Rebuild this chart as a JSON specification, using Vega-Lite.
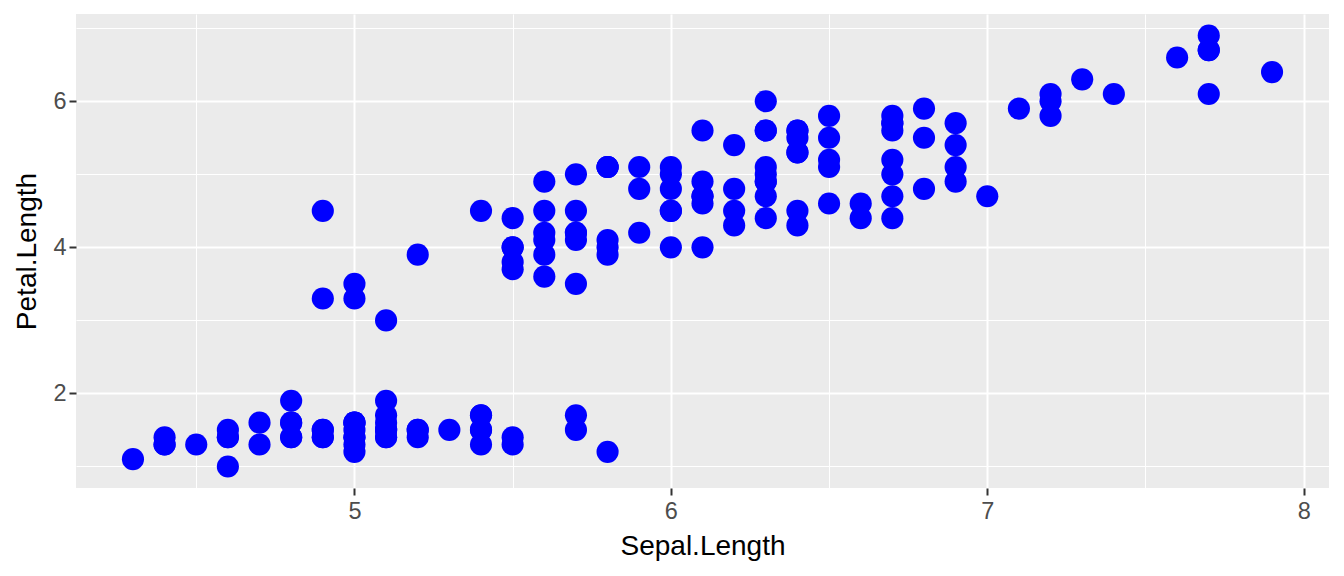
{
  "$schema": "https://vega.github.io/schema/vega-lite/v6.json",
  "width": 1253,
  "height": 474,
  "autosize": {"type": "none"},
  "padding": {"left": 76, "top": 14, "right": 15, "bottom": 88},
  "background": "white",
  "view": {"fill": "#EBEBEB", "stroke": null},
  "config": {
    "font": "Liberation Sans",
    "axis": {
      "gridColor": "white",
      "domain": false,
      "tickColor": "#333333",
      "tickSize": 7,
      "tickWidth": 2,
      "labelColor": "#4D4D4D",
      "labelFontSize": 23.5,
      "labelFont": "Liberation Sans",
      "titleFont": "Liberation Sans",
      "titleFontSize": 28,
      "titleFontWeight": "normal",
      "titleColor": "black"
    }
  },
  "data": {"values": [
    {"Sepal.Length":5.1,"Petal.Length":1.4},{"Sepal.Length":4.9,"Petal.Length":1.4},{"Sepal.Length":4.7,"Petal.Length":1.3},{"Sepal.Length":4.6,"Petal.Length":1.5},{"Sepal.Length":5.0,"Petal.Length":1.4},
    {"Sepal.Length":5.4,"Petal.Length":1.7},{"Sepal.Length":4.6,"Petal.Length":1.4},{"Sepal.Length":5.0,"Petal.Length":1.5},{"Sepal.Length":4.4,"Petal.Length":1.4},{"Sepal.Length":4.9,"Petal.Length":1.5},
    {"Sepal.Length":5.4,"Petal.Length":1.5},{"Sepal.Length":4.8,"Petal.Length":1.6},{"Sepal.Length":4.8,"Petal.Length":1.4},{"Sepal.Length":4.3,"Petal.Length":1.1},{"Sepal.Length":5.8,"Petal.Length":1.2},
    {"Sepal.Length":5.7,"Petal.Length":1.5},{"Sepal.Length":5.4,"Petal.Length":1.3},{"Sepal.Length":5.1,"Petal.Length":1.4},{"Sepal.Length":5.7,"Petal.Length":1.7},{"Sepal.Length":5.1,"Petal.Length":1.5},
    {"Sepal.Length":5.4,"Petal.Length":1.7},{"Sepal.Length":5.1,"Petal.Length":1.5},{"Sepal.Length":4.6,"Petal.Length":1.0},{"Sepal.Length":5.1,"Petal.Length":1.7},{"Sepal.Length":4.8,"Petal.Length":1.9},
    {"Sepal.Length":5.0,"Petal.Length":1.6},{"Sepal.Length":5.0,"Petal.Length":1.6},{"Sepal.Length":5.2,"Petal.Length":1.5},{"Sepal.Length":5.2,"Petal.Length":1.4},{"Sepal.Length":4.7,"Petal.Length":1.6},
    {"Sepal.Length":4.8,"Petal.Length":1.6},{"Sepal.Length":5.4,"Petal.Length":1.5},{"Sepal.Length":5.2,"Petal.Length":1.5},{"Sepal.Length":5.5,"Petal.Length":1.4},{"Sepal.Length":4.9,"Petal.Length":1.5},
    {"Sepal.Length":5.0,"Petal.Length":1.2},{"Sepal.Length":5.5,"Petal.Length":1.3},{"Sepal.Length":4.9,"Petal.Length":1.4},{"Sepal.Length":4.4,"Petal.Length":1.3},{"Sepal.Length":5.1,"Petal.Length":1.5},
    {"Sepal.Length":5.0,"Petal.Length":1.3},{"Sepal.Length":4.5,"Petal.Length":1.3},{"Sepal.Length":4.4,"Petal.Length":1.3},{"Sepal.Length":5.0,"Petal.Length":1.6},{"Sepal.Length":5.1,"Petal.Length":1.9},
    {"Sepal.Length":4.8,"Petal.Length":1.4},{"Sepal.Length":5.1,"Petal.Length":1.6},{"Sepal.Length":4.6,"Petal.Length":1.4},{"Sepal.Length":5.3,"Petal.Length":1.5},{"Sepal.Length":5.0,"Petal.Length":1.4},
    {"Sepal.Length":7.0,"Petal.Length":4.7},{"Sepal.Length":6.4,"Petal.Length":4.5},{"Sepal.Length":6.9,"Petal.Length":4.9},{"Sepal.Length":5.5,"Petal.Length":4.0},{"Sepal.Length":6.5,"Petal.Length":4.6},
    {"Sepal.Length":5.7,"Petal.Length":4.5},{"Sepal.Length":6.3,"Petal.Length":4.7},{"Sepal.Length":4.9,"Petal.Length":3.3},{"Sepal.Length":6.6,"Petal.Length":4.6},{"Sepal.Length":5.2,"Petal.Length":3.9},
    {"Sepal.Length":5.0,"Petal.Length":3.5},{"Sepal.Length":5.9,"Petal.Length":4.2},{"Sepal.Length":6.0,"Petal.Length":4.0},{"Sepal.Length":6.1,"Petal.Length":4.7},{"Sepal.Length":5.6,"Petal.Length":3.6},
    {"Sepal.Length":6.7,"Petal.Length":4.4},{"Sepal.Length":5.6,"Petal.Length":4.5},{"Sepal.Length":5.8,"Petal.Length":4.1},{"Sepal.Length":6.2,"Petal.Length":4.5},{"Sepal.Length":5.6,"Petal.Length":3.9},
    {"Sepal.Length":5.9,"Petal.Length":4.8},{"Sepal.Length":6.1,"Petal.Length":4.0},{"Sepal.Length":6.3,"Petal.Length":4.9},{"Sepal.Length":6.1,"Petal.Length":4.7},{"Sepal.Length":6.4,"Petal.Length":4.3},
    {"Sepal.Length":6.6,"Petal.Length":4.4},{"Sepal.Length":6.8,"Petal.Length":4.8},{"Sepal.Length":6.7,"Petal.Length":5.0},{"Sepal.Length":6.0,"Petal.Length":4.5},{"Sepal.Length":5.7,"Petal.Length":3.5},
    {"Sepal.Length":5.5,"Petal.Length":3.8},{"Sepal.Length":5.5,"Petal.Length":3.7},{"Sepal.Length":5.8,"Petal.Length":3.9},{"Sepal.Length":6.0,"Petal.Length":5.1},{"Sepal.Length":5.4,"Petal.Length":4.5},
    {"Sepal.Length":6.0,"Petal.Length":4.5},{"Sepal.Length":6.7,"Petal.Length":4.7},{"Sepal.Length":6.3,"Petal.Length":4.4},{"Sepal.Length":5.6,"Petal.Length":4.1},{"Sepal.Length":5.5,"Petal.Length":4.0},
    {"Sepal.Length":5.5,"Petal.Length":4.4},{"Sepal.Length":6.1,"Petal.Length":4.6},{"Sepal.Length":5.8,"Petal.Length":4.0},{"Sepal.Length":5.0,"Petal.Length":3.3},{"Sepal.Length":5.6,"Petal.Length":4.2},
    {"Sepal.Length":5.7,"Petal.Length":4.2},{"Sepal.Length":5.7,"Petal.Length":4.2},{"Sepal.Length":6.2,"Petal.Length":4.3},{"Sepal.Length":5.1,"Petal.Length":3.0},{"Sepal.Length":5.7,"Petal.Length":4.1},
    {"Sepal.Length":6.3,"Petal.Length":6.0},{"Sepal.Length":5.8,"Petal.Length":5.1},{"Sepal.Length":7.1,"Petal.Length":5.9},{"Sepal.Length":6.3,"Petal.Length":5.6},{"Sepal.Length":6.5,"Petal.Length":5.8},
    {"Sepal.Length":7.6,"Petal.Length":6.6},{"Sepal.Length":4.9,"Petal.Length":4.5},{"Sepal.Length":7.3,"Petal.Length":6.3},{"Sepal.Length":6.7,"Petal.Length":5.8},{"Sepal.Length":7.2,"Petal.Length":6.1},
    {"Sepal.Length":6.5,"Petal.Length":5.1},{"Sepal.Length":6.4,"Petal.Length":5.3},{"Sepal.Length":6.8,"Petal.Length":5.5},{"Sepal.Length":5.7,"Petal.Length":5.0},{"Sepal.Length":5.8,"Petal.Length":5.1},
    {"Sepal.Length":6.4,"Petal.Length":5.3},{"Sepal.Length":6.5,"Petal.Length":5.5},{"Sepal.Length":7.7,"Petal.Length":6.7},{"Sepal.Length":7.7,"Petal.Length":6.9},{"Sepal.Length":6.0,"Petal.Length":5.0},
    {"Sepal.Length":6.9,"Petal.Length":5.7},{"Sepal.Length":5.6,"Petal.Length":4.9},{"Sepal.Length":7.7,"Petal.Length":6.7},{"Sepal.Length":6.3,"Petal.Length":4.9},{"Sepal.Length":6.7,"Petal.Length":5.7},
    {"Sepal.Length":7.2,"Petal.Length":6.0},{"Sepal.Length":6.2,"Petal.Length":4.8},{"Sepal.Length":6.1,"Petal.Length":4.9},{"Sepal.Length":6.4,"Petal.Length":5.6},{"Sepal.Length":7.2,"Petal.Length":5.8},
    {"Sepal.Length":7.4,"Petal.Length":6.1},{"Sepal.Length":7.9,"Petal.Length":6.4},{"Sepal.Length":6.4,"Petal.Length":5.6},{"Sepal.Length":6.3,"Petal.Length":5.1},{"Sepal.Length":6.1,"Petal.Length":5.6},
    {"Sepal.Length":7.7,"Petal.Length":6.1},{"Sepal.Length":6.3,"Petal.Length":5.6},{"Sepal.Length":6.4,"Petal.Length":5.5},{"Sepal.Length":6.0,"Petal.Length":4.8},{"Sepal.Length":6.9,"Petal.Length":5.4},
    {"Sepal.Length":6.7,"Petal.Length":5.6},{"Sepal.Length":6.9,"Petal.Length":5.1},{"Sepal.Length":5.8,"Petal.Length":5.1},{"Sepal.Length":6.8,"Petal.Length":5.9},{"Sepal.Length":6.7,"Petal.Length":5.7},
    {"Sepal.Length":6.7,"Petal.Length":5.2},{"Sepal.Length":6.3,"Petal.Length":5.0},{"Sepal.Length":6.5,"Petal.Length":5.2},{"Sepal.Length":6.2,"Petal.Length":5.4},{"Sepal.Length":5.9,"Petal.Length":5.1}
  ]},
  "layer": [
    {
      "mark": {"type": "point", "opacity": 0},
      "encoding": {
        "x": {"field": "Sepal\\.Length", "type": "quantitative",
              "scale": {"domain": [4.12, 8.08], "nice": false, "zero": false},
              "axis": {"orient": "bottom", "values": [4.5, 5.5, 6.5, 7.5], "grid": true, "gridWidth": 1, "ticks": false, "labels": false, "domain": false, "title": null}},
        "y": {"field": "Petal\\.Length", "type": "quantitative",
              "scale": {"domain": [0.705, 7.195], "nice": false, "zero": false},
              "axis": {"orient": "left", "values": [1, 3, 5, 7], "grid": true, "gridWidth": 1, "ticks": false, "labels": false, "domain": false, "title": null}}
      }
    },
    {
      "mark": {"type": "circle", "color": "#0000FF", "opacity": 1, "size": 490},
      "encoding": {
        "x": {"field": "Sepal\\.Length", "type": "quantitative",
              "scale": {"domain": [4.12, 8.08], "nice": false, "zero": false},
              "axis": {"orient": "bottom", "values": [5, 6, 7, 8], "grid": true, "gridWidth": 2, "labelPadding": 4, "titlePadding": 10, "title": "Sepal.Length"}},
        "y": {"field": "Petal\\.Length", "type": "quantitative",
              "scale": {"domain": [0.705, 7.195], "nice": false, "zero": false},
              "axis": {"orient": "left", "values": [2, 4, 6], "grid": true, "gridWidth": 2, "labelPadding": 3, "titlePadding": 11, "title": "Petal.Length"}}
      }
    }
  ],
  "resolve": {"axis": {"x": "independent", "y": "independent"}}
}
